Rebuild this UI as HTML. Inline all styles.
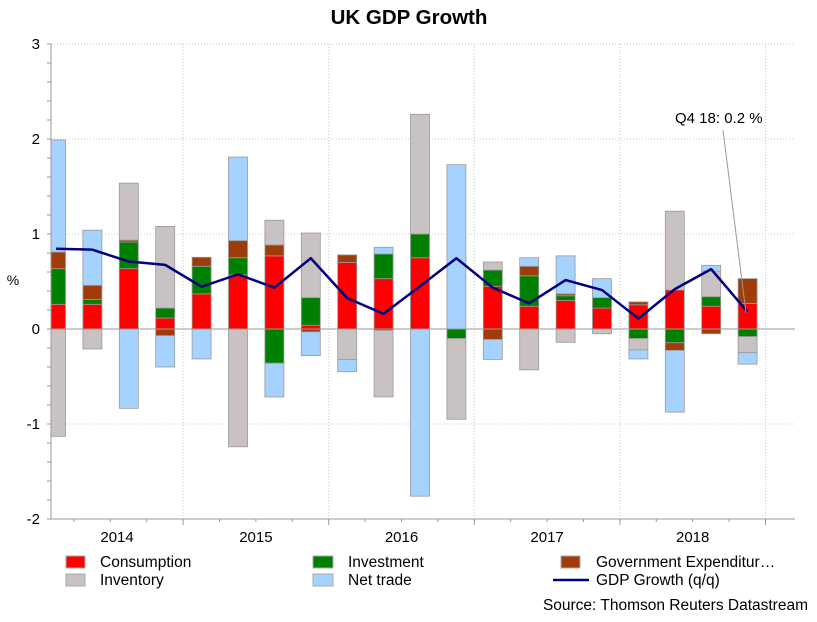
<!DOCTYPE html>
<html><head><meta charset="utf-8"><style>
html,body{margin:0;padding:0;background:#fff;}
body{width:817px;height:617px;overflow:hidden;font-family:"Liberation Sans",Arial,sans-serif;}
</style></head><body>
<svg id="chart" width="817" height="617" xmlns="http://www.w3.org/2000/svg" font-family="Liberation Sans, Arial, sans-serif">
<text x="409" y="24" text-anchor="middle" font-size="20.5" font-weight="bold">UK GDP Growth</text>
<text x="13" y="285" text-anchor="middle" font-size="14">%</text>
<g id="grid"></g>
<g id="bars"></g>
<g id="line"></g>
<g id="axes"></g>
<g>
<text x="675" y="123" font-size="15">Q4 18: 0.2 %</text>
<line x1="723" y1="130" x2="746" y2="313" stroke="#999" stroke-width="1"/>
</g>
<g font-size="15.5">
<g><rect x="66" y="556" width="19" height="12" fill="#ff0000" stroke="#aaa"/><text x="100" y="567">Consumption</text></g>
<g><rect x="66" y="574" width="19" height="12" fill="#c8c2c2" stroke="#aaa"/><text x="100" y="585">Inventory</text></g>
<g><rect x="313" y="556" width="20" height="12" fill="#008000" stroke="#aaa"/><text x="348" y="567">Investment</text></g>
<g><rect x="313" y="574" width="20" height="12" fill="#a6d2ff" stroke="#aaa"/><text x="348" y="585">Net trade</text></g>
<g><rect x="561" y="556" width="19" height="12" fill="#a03c0a" stroke="#aaa"/><text x="596" y="567">Government Expenditur…</text></g>
<g><line x1="553" y1="580" x2="589" y2="580" stroke="#000080" stroke-width="2.5"/><text x="596" y="585">GDP Growth (q/q)</text></g>
</g>
<text x="808" y="610" text-anchor="end" font-size="15.5">Source: Thomson Reuters Datastream</text>
</svg>
<script>
const categories = ["2014Q1","2014Q2","2014Q3","2014Q4","2015Q1","2015Q2","2015Q3","2015Q4","2016Q1","2016Q2","2016Q3","2016Q4","2017Q1","2017Q2","2017Q3","2017Q4","2018Q1","2018Q2","2018Q3","2018Q4"];
const consumption = [0.26,0.26,0.635,0.115,0.37,0.57,0.77,0.04,0.70,0.53,0.75,0,0.45,0.24,0.30,0.22,0.255,0.41,0.24,0.27];
const investment = [0.375,0.05,0.28,0.105,0.29,0.18,-0.36,0.29,0,0.26,0.25,-0.10,0.17,0.32,0.05,0.11,-0.10,-0.145,0.10,-0.08];
const government = [0.175,0.15,0.02,-0.07,0.095,0.18,0.115,-0.03,0.08,-0.015,0,0,-0.11,0.10,0.02,0,0.03,-0.08,-0.05,0.26];
const inventory = [-1.13,-0.21,0.6,0.86,0,-1.24,0.26,0.68,-0.32,-0.70,1.26,-0.85,0.085,-0.43,-0.14,-0.05,-0.12,0.83,0.27,-0.17];
const netTrade = [1.18,0.58,-0.835,-0.33,-0.315,0.88,-0.355,-0.25,-0.13,0.07,-1.76,1.73,-0.21,0.09,0.40,0.20,-0.095,-0.65,0.06,-0.12];
const gdpGrowth = [0.845,0.835,0.71,0.675,0.445,0.575,0.435,0.745,0.325,0.16,0.45,0.745,0.435,0.27,0.515,0.41,0.11,0.42,0.63,0.18];
const yTicks = [3,2,1,0,-1,-2];
const yearLabels = ["2014","2015","2016","2017","2018"];

const NS="http://www.w3.org/2000/svg";
const L=51,R=795,T=44,B=519;
function y(v){return 329 - v*95;}
function x(i){return 56 + i*36.4;}
function el(tag,attrs,parent){const e=document.createElementNS(NS,tag);for(const k in attrs)e.setAttribute(k,attrs[k]);parent.appendChild(e);return e;}
const grid=document.getElementById('grid'),bars=document.getElementById('bars'),lineG=document.getElementById('line'),axes=document.getElementById('axes');
const defs=el('defs',{},document.getElementById('chart'));
const cp=el('clipPath',{id:'plotclip'},defs);el('rect',{x:L,y:T-5,width:R-L,height:B-T+5},cp);
bars.setAttribute('clip-path','url(#plotclip)');
yTicks.forEach(v=>{
  if(v!==0){const g=el('line',{x1:L,x2:R,y1:y(v),y2:y(v),stroke:'#c8c8c8','stroke-dasharray':'1,2'},grid);
  
  }
  const t=el('text',{x:40,y:y(v)+5,'text-anchor':'end','font-size':'15'},axes);t.textContent=v;
  
  
});
for(let k=1;k<=5;k++){const gx=37.5+k*4*36.4;
  const g=el('line',{x1:gx,x2:gx,y1:T,y2:B,stroke:'#c8c8c8','stroke-dasharray':'1,2'},grid);
  
  }
yearLabels.forEach((lab,k)=>{let x0=Math.max(L,37.5+k*4*36.4),x1=37.5+(k+1)*4*36.4;const cx=(x0+x1)/2;
  const t=el('text',{x:cx,y:542,'text-anchor':'middle','font-size':'15'},axes);t.textContent=lab;
  
  });
const series=[[consumption,'#ff0000'],[investment,'#008000'],[government,'#a03c0a'],[inventory,'#c8c2c2'],[netTrade,'#a6d2ff']];
const names=['consumption','investment','government','inventory','net-trade'];
categories.forEach((c,i)=>{let pos=0,neg=0;
  series.forEach(([arr,col],s)=>{const v=arr[i];if(!v)return;let y0,y1;
    if(v>0){y0=pos;y1=pos+v;pos=y1;}else{y0=neg;y1=neg+v;neg=y1;}
    const top=y(Math.max(y0,y1)),h=Math.abs(y(y0)-y(y1));
    const r=el('rect',{x:x(i)-9.5,y:top,width:19,height:h,fill:col,stroke:'#999','stroke-width':'0.8'},bars);
    
    });
});
const z=el('line',{x1:L,x2:R,y1:y(0),y2:y(0),stroke:'#999','stroke-width':'1'},axes);


const pts=gdpGrowth.map((v,i)=>x(i)+','+y(v)).join(' ');
const pl=el('polyline',{points:pts,fill:'none',stroke:'#000080','stroke-width':'2.5','stroke-linejoin':'round'},lineG);


const ya=el('line',{x1:L,x2:L,y1:T,y2:B,stroke:'#999'},axes);


const xa=el('line',{x1:L,x2:R,y1:B,y2:B,stroke:'#999'},axes);


for(let v=-2;v<=3.001;v+=0.2){el('line',{x1:L-4,x2:L,y1:y(v),y2:y(v),stroke:'#999'},axes);}
for(let k=1;k<=20;k++){const tx=37.5+k*36.4;if(tx<L||tx>R)continue;const big=k%4===0;
  el('line',{x1:tx,x2:tx,y1:B,y2:B+(big?6:3),stroke:'#999'},axes);}
</script>
</body></html>
